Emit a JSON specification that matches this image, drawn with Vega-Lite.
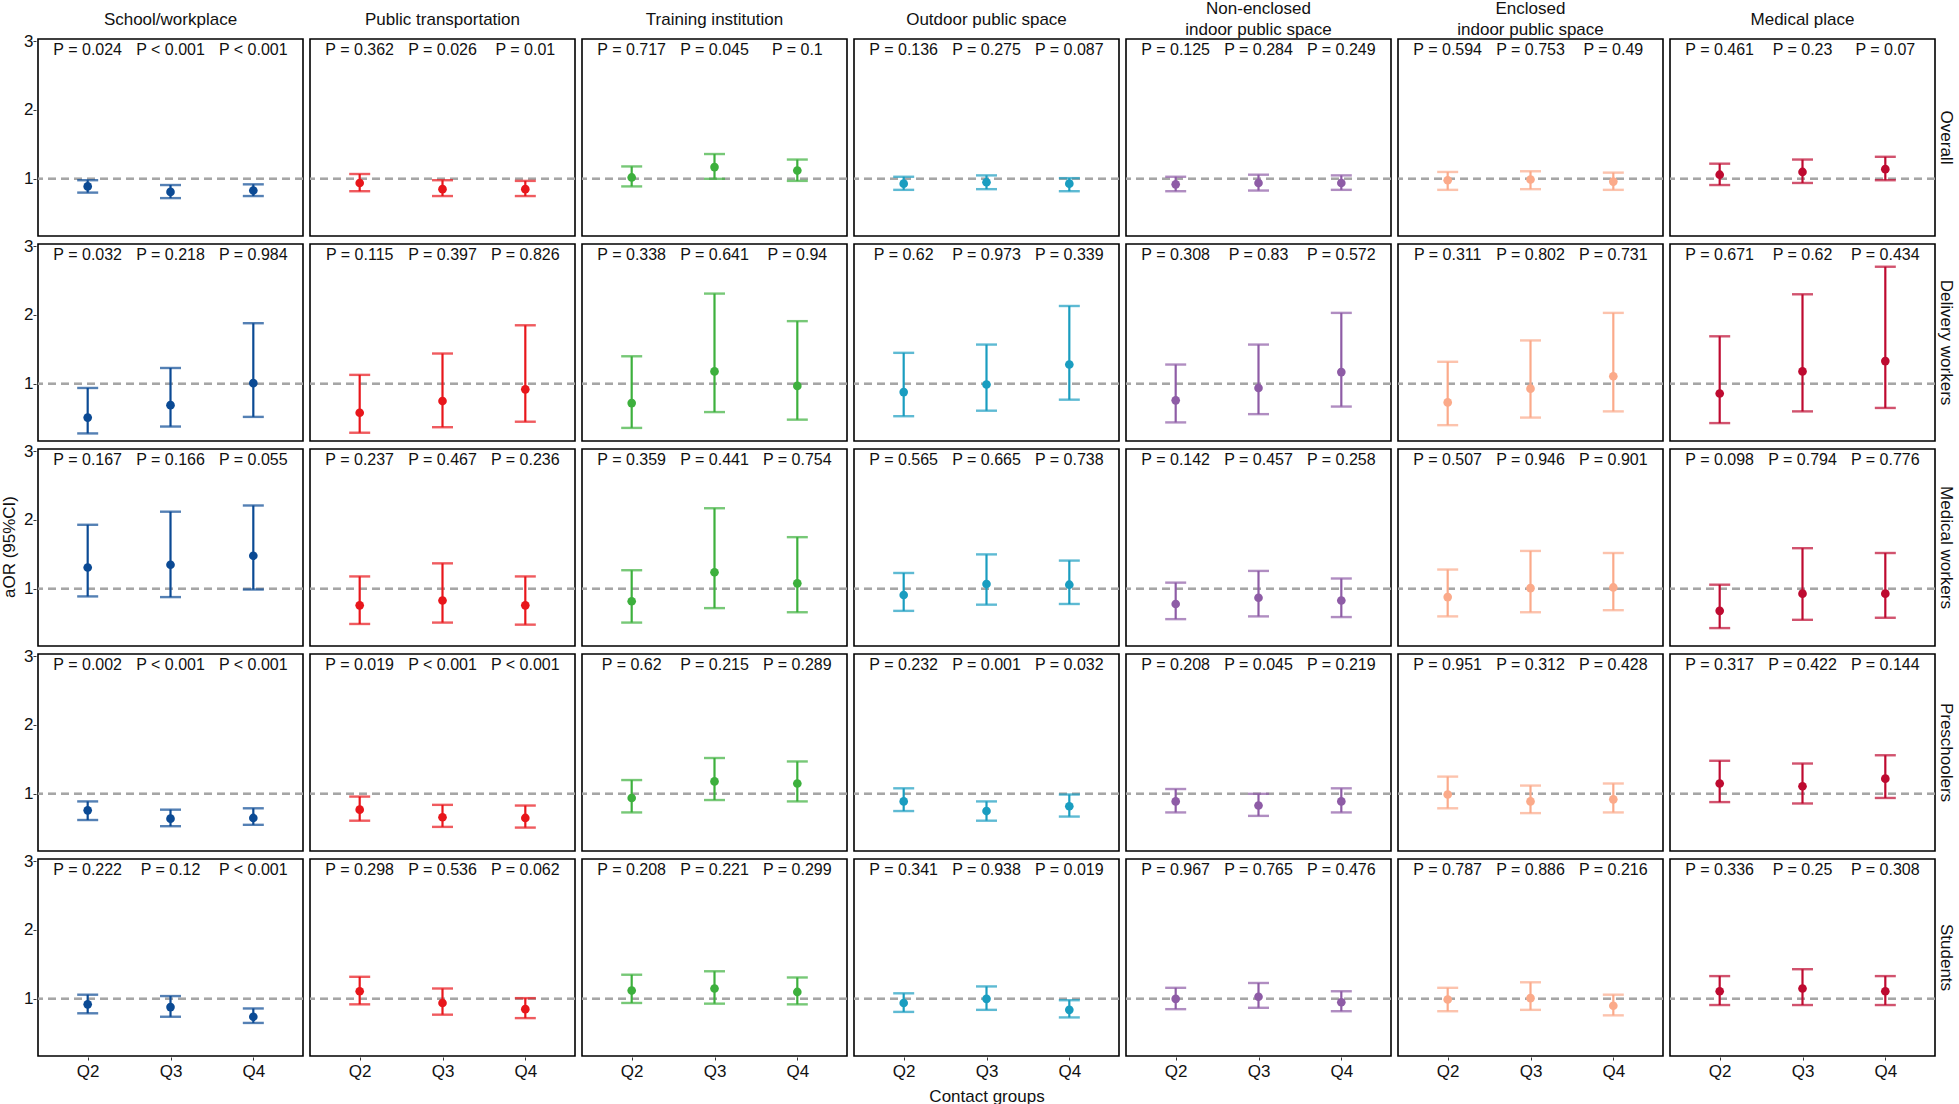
{
  "$schema": "https://vega.github.io/schema/vega-lite/v6.json",
  "padding": {"left": 0, "top": 0, "right": 0, "bottom": 0},
  "background": "white",
  "config": {
    "font": "Liberation Sans",
    "view": {"stroke": "#000000", "strokeWidth": 1.6},
    "axis": {"grid": false, "domain": false, "tickColor": "#333333", "tickSize": 3, "labelFontSize": 17, "labelColor": "#111111", "labelFont": "Liberation Sans"},
    "header": {"labelFont": "Liberation Sans", "titleFont": "Liberation Sans", "labelColor": "#111111", "titleColor": "#111111", "titleFontWeight": "normal"}
  },
  "data": {"values": [
    {"g":"Overall","c":"School/workplace","q":"Q2","or":0.89,"lo":0.80,"hi":0.98,"p":"P = 0.024"},
    {"g":"Overall","c":"School/workplace","q":"Q3","or":0.81,"lo":0.72,"hi":0.91,"p":"P  < 0.001"},
    {"g":"Overall","c":"School/workplace","q":"Q4","or":0.83,"lo":0.75,"hi":0.92,"p":"P  < 0.001"},
    {"g":"Overall","c":"Public transportation","q":"Q2","or":0.94,"lo":0.82,"hi":1.07,"p":"P = 0.362"},
    {"g":"Overall","c":"Public transportation","q":"Q3","or":0.85,"lo":0.75,"hi":0.98,"p":"P = 0.026"},
    {"g":"Overall","c":"Public transportation","q":"Q4","or":0.85,"lo":0.75,"hi":0.97,"p":"P = 0.01"},
    {"g":"Overall","c":"Training institution","q":"Q2","or":1.02,"lo":0.89,"hi":1.18,"p":"P = 0.717"},
    {"g":"Overall","c":"Training institution","q":"Q3","or":1.17,"lo":1.00,"hi":1.36,"p":"P = 0.045"},
    {"g":"Overall","c":"Training institution","q":"Q4","or":1.12,"lo":0.97,"hi":1.28,"p":"P = 0.1"},
    {"g":"Overall","c":"Outdoor public space","q":"Q2","or":0.93,"lo":0.84,"hi":1.03,"p":"P = 0.136"},
    {"g":"Overall","c":"Outdoor public space","q":"Q3","or":0.95,"lo":0.85,"hi":1.05,"p":"P = 0.275"},
    {"g":"Overall","c":"Outdoor public space","q":"Q4","or":0.93,"lo":0.82,"hi":1.01,"p":"P = 0.087"},
    {"g":"Overall","c":"Non-enclosed|indoor public space","q":"Q2","or":0.92,"lo":0.82,"hi":1.03,"p":"P = 0.125"},
    {"g":"Overall","c":"Non-enclosed|indoor public space","q":"Q3","or":0.94,"lo":0.83,"hi":1.06,"p":"P = 0.284"},
    {"g":"Overall","c":"Non-enclosed|indoor public space","q":"Q4","or":0.94,"lo":0.84,"hi":1.05,"p":"P = 0.249"},
    {"g":"Overall","c":"Enclosed|indoor public space","q":"Q2","or":0.98,"lo":0.84,"hi":1.10,"p":"P = 0.594"},
    {"g":"Overall","c":"Enclosed|indoor public space","q":"Q3","or":0.99,"lo":0.85,"hi":1.11,"p":"P = 0.753"},
    {"g":"Overall","c":"Enclosed|indoor public space","q":"Q4","or":0.96,"lo":0.84,"hi":1.09,"p":"P = 0.49"},
    {"g":"Overall","c":"Medical place","q":"Q2","or":1.06,"lo":0.91,"hi":1.22,"p":"P = 0.461"},
    {"g":"Overall","c":"Medical place","q":"Q3","or":1.10,"lo":0.94,"hi":1.28,"p":"P = 0.23"},
    {"g":"Overall","c":"Medical place","q":"Q4","or":1.14,"lo":0.98,"hi":1.32,"p":"P = 0.07"},

    {"g":"Delivery workers","c":"School/workplace","q":"Q2","or":0.51,"lo":0.28,"hi":0.94,"p":"P = 0.032"},
    {"g":"Delivery workers","c":"School/workplace","q":"Q3","or":0.69,"lo":0.38,"hi":1.23,"p":"P = 0.218"},
    {"g":"Delivery workers","c":"School/workplace","q":"Q4","or":1.01,"lo":0.52,"hi":1.88,"p":"P = 0.984"},
    {"g":"Delivery workers","c":"Public transportation","q":"Q2","or":0.58,"lo":0.29,"hi":1.13,"p":"P = 0.115"},
    {"g":"Delivery workers","c":"Public transportation","q":"Q3","or":0.75,"lo":0.37,"hi":1.44,"p":"P = 0.397"},
    {"g":"Delivery workers","c":"Public transportation","q":"Q4","or":0.92,"lo":0.45,"hi":1.85,"p":"P = 0.826"},
    {"g":"Delivery workers","c":"Training institution","q":"Q2","or":0.72,"lo":0.36,"hi":1.40,"p":"P = 0.338"},
    {"g":"Delivery workers","c":"Training institution","q":"Q3","or":1.18,"lo":0.59,"hi":2.31,"p":"P = 0.641"},
    {"g":"Delivery workers","c":"Training institution","q":"Q4","or":0.97,"lo":0.48,"hi":1.91,"p":"P = 0.94"},
    {"g":"Delivery workers","c":"Outdoor public space","q":"Q2","or":0.88,"lo":0.53,"hi":1.45,"p":"P = 0.62"},
    {"g":"Delivery workers","c":"Outdoor public space","q":"Q3","or":0.99,"lo":0.61,"hi":1.57,"p":"P = 0.973"},
    {"g":"Delivery workers","c":"Outdoor public space","q":"Q4","or":1.28,"lo":0.77,"hi":2.13,"p":"P = 0.339"},
    {"g":"Delivery workers","c":"Non-enclosed|indoor public space","q":"Q2","or":0.76,"lo":0.44,"hi":1.28,"p":"P = 0.308"},
    {"g":"Delivery workers","c":"Non-enclosed|indoor public space","q":"Q3","or":0.94,"lo":0.56,"hi":1.57,"p":"P = 0.83"},
    {"g":"Delivery workers","c":"Non-enclosed|indoor public space","q":"Q4","or":1.17,"lo":0.67,"hi":2.03,"p":"P = 0.572"},
    {"g":"Delivery workers","c":"Enclosed|indoor public space","q":"Q2","or":0.73,"lo":0.40,"hi":1.32,"p":"P = 0.311"},
    {"g":"Delivery workers","c":"Enclosed|indoor public space","q":"Q3","or":0.93,"lo":0.51,"hi":1.63,"p":"P = 0.802"},
    {"g":"Delivery workers","c":"Enclosed|indoor public space","q":"Q4","or":1.11,"lo":0.60,"hi":2.03,"p":"P = 0.731"},
    {"g":"Delivery workers","c":"Medical place","q":"Q2","or":0.86,"lo":0.43,"hi":1.69,"p":"P = 0.671"},
    {"g":"Delivery workers","c":"Medical place","q":"Q3","or":1.18,"lo":0.60,"hi":2.30,"p":"P = 0.62"},
    {"g":"Delivery workers","c":"Medical place","q":"Q4","or":1.33,"lo":0.65,"hi":2.70,"p":"P = 0.434"},

    {"g":"Medical workers","c":"School/workplace","q":"Q2","or":1.31,"lo":0.89,"hi":1.93,"p":"P = 0.167"},
    {"g":"Medical workers","c":"School/workplace","q":"Q3","or":1.35,"lo":0.88,"hi":2.12,"p":"P = 0.166"},
    {"g":"Medical workers","c":"School/workplace","q":"Q4","or":1.48,"lo":0.99,"hi":2.21,"p":"P = 0.055"},
    {"g":"Medical workers","c":"Public transportation","q":"Q2","or":0.76,"lo":0.49,"hi":1.18,"p":"P = 0.237"},
    {"g":"Medical workers","c":"Public transportation","q":"Q3","or":0.83,"lo":0.51,"hi":1.37,"p":"P = 0.467"},
    {"g":"Medical workers","c":"Public transportation","q":"Q4","or":0.76,"lo":0.48,"hi":1.18,"p":"P = 0.236"},
    {"g":"Medical workers","c":"Training institution","q":"Q2","or":0.82,"lo":0.51,"hi":1.27,"p":"P = 0.359"},
    {"g":"Medical workers","c":"Training institution","q":"Q3","or":1.24,"lo":0.72,"hi":2.17,"p":"P = 0.441"},
    {"g":"Medical workers","c":"Training institution","q":"Q4","or":1.08,"lo":0.66,"hi":1.75,"p":"P = 0.754"},
    {"g":"Medical workers","c":"Outdoor public space","q":"Q2","or":0.91,"lo":0.68,"hi":1.23,"p":"P = 0.565"},
    {"g":"Medical workers","c":"Outdoor public space","q":"Q3","or":1.07,"lo":0.77,"hi":1.50,"p":"P = 0.665"},
    {"g":"Medical workers","c":"Outdoor public space","q":"Q4","or":1.06,"lo":0.78,"hi":1.41,"p":"P = 0.738"},
    {"g":"Medical workers","c":"Non-enclosed|indoor public space","q":"Q2","or":0.78,"lo":0.56,"hi":1.09,"p":"P = 0.142"},
    {"g":"Medical workers","c":"Non-enclosed|indoor public space","q":"Q3","or":0.87,"lo":0.60,"hi":1.26,"p":"P = 0.457"},
    {"g":"Medical workers","c":"Non-enclosed|indoor public space","q":"Q4","or":0.83,"lo":0.59,"hi":1.15,"p":"P = 0.258"},
    {"g":"Medical workers","c":"Enclosed|indoor public space","q":"Q2","or":0.88,"lo":0.60,"hi":1.28,"p":"P = 0.507"},
    {"g":"Medical workers","c":"Enclosed|indoor public space","q":"Q3","or":1.01,"lo":0.66,"hi":1.55,"p":"P = 0.946"},
    {"g":"Medical workers","c":"Enclosed|indoor public space","q":"Q4","or":1.02,"lo":0.69,"hi":1.52,"p":"P = 0.901"},
    {"g":"Medical workers","c":"Medical place","q":"Q2","or":0.68,"lo":0.43,"hi":1.06,"p":"P = 0.098"},
    {"g":"Medical workers","c":"Medical place","q":"Q3","or":0.93,"lo":0.55,"hi":1.59,"p":"P = 0.794"},
    {"g":"Medical workers","c":"Medical place","q":"Q4","or":0.93,"lo":0.58,"hi":1.52,"p":"P = 0.776"},

    {"g":"Preschoolers","c":"School/workplace","q":"Q2","or":0.76,"lo":0.62,"hi":0.89,"p":"P = 0.002"},
    {"g":"Preschoolers","c":"School/workplace","q":"Q3","or":0.64,"lo":0.53,"hi":0.77,"p":"P  < 0.001"},
    {"g":"Preschoolers","c":"School/workplace","q":"Q4","or":0.65,"lo":0.55,"hi":0.79,"p":"P  < 0.001"},
    {"g":"Preschoolers","c":"Public transportation","q":"Q2","or":0.77,"lo":0.61,"hi":0.96,"p":"P = 0.019"},
    {"g":"Preschoolers","c":"Public transportation","q":"Q3","or":0.66,"lo":0.52,"hi":0.84,"p":"P  < 0.001"},
    {"g":"Preschoolers","c":"Public transportation","q":"Q4","or":0.65,"lo":0.51,"hi":0.83,"p":"P  < 0.001"},
    {"g":"Preschoolers","c":"Training institution","q":"Q2","or":0.94,"lo":0.73,"hi":1.20,"p":"P = 0.62"},
    {"g":"Preschoolers","c":"Training institution","q":"Q3","or":1.18,"lo":0.91,"hi":1.52,"p":"P = 0.215"},
    {"g":"Preschoolers","c":"Training institution","q":"Q4","or":1.15,"lo":0.89,"hi":1.47,"p":"P = 0.289"},
    {"g":"Preschoolers","c":"Outdoor public space","q":"Q2","or":0.89,"lo":0.75,"hi":1.08,"p":"P = 0.232"},
    {"g":"Preschoolers","c":"Outdoor public space","q":"Q3","or":0.75,"lo":0.61,"hi":0.89,"p":"P = 0.001"},
    {"g":"Preschoolers","c":"Outdoor public space","q":"Q4","or":0.82,"lo":0.67,"hi":0.99,"p":"P = 0.032"},
    {"g":"Preschoolers","c":"Non-enclosed|indoor public space","q":"Q2","or":0.89,"lo":0.73,"hi":1.07,"p":"P = 0.208"},
    {"g":"Preschoolers","c":"Non-enclosed|indoor public space","q":"Q3","or":0.83,"lo":0.68,"hi":1.00,"p":"P = 0.045"},
    {"g":"Preschoolers","c":"Non-enclosed|indoor public space","q":"Q4","or":0.89,"lo":0.73,"hi":1.08,"p":"P = 0.219"},
    {"g":"Preschoolers","c":"Enclosed|indoor public space","q":"Q2","or":0.99,"lo":0.79,"hi":1.25,"p":"P = 0.951"},
    {"g":"Preschoolers","c":"Enclosed|indoor public space","q":"Q3","or":0.89,"lo":0.72,"hi":1.12,"p":"P = 0.312"},
    {"g":"Preschoolers","c":"Enclosed|indoor public space","q":"Q4","or":0.92,"lo":0.73,"hi":1.15,"p":"P = 0.428"},
    {"g":"Preschoolers","c":"Medical place","q":"Q2","or":1.15,"lo":0.88,"hi":1.48,"p":"P = 0.317"},
    {"g":"Preschoolers","c":"Medical place","q":"Q3","or":1.11,"lo":0.86,"hi":1.44,"p":"P = 0.422"},
    {"g":"Preschoolers","c":"Medical place","q":"Q4","or":1.22,"lo":0.94,"hi":1.56,"p":"P = 0.144"},

    {"g":"Students","c":"School/workplace","q":"Q2","or":0.92,"lo":0.79,"hi":1.06,"p":"P = 0.222"},
    {"g":"Students","c":"School/workplace","q":"Q3","or":0.88,"lo":0.74,"hi":1.04,"p":"P = 0.12"},
    {"g":"Students","c":"School/workplace","q":"Q4","or":0.74,"lo":0.65,"hi":0.86,"p":"P  < 0.001"},
    {"g":"Students","c":"Public transportation","q":"Q2","or":1.11,"lo":0.92,"hi":1.32,"p":"P = 0.298"},
    {"g":"Students","c":"Public transportation","q":"Q3","or":0.94,"lo":0.77,"hi":1.15,"p":"P = 0.536"},
    {"g":"Students","c":"Public transportation","q":"Q4","or":0.85,"lo":0.72,"hi":1.01,"p":"P = 0.062"},
    {"g":"Students","c":"Training institution","q":"Q2","or":1.12,"lo":0.94,"hi":1.35,"p":"P = 0.208"},
    {"g":"Students","c":"Training institution","q":"Q3","or":1.15,"lo":0.93,"hi":1.40,"p":"P = 0.221"},
    {"g":"Students","c":"Training institution","q":"Q4","or":1.10,"lo":0.92,"hi":1.31,"p":"P = 0.299"},
    {"g":"Students","c":"Outdoor public space","q":"Q2","or":0.94,"lo":0.81,"hi":1.08,"p":"P = 0.341"},
    {"g":"Students","c":"Outdoor public space","q":"Q3","or":1.00,"lo":0.84,"hi":1.18,"p":"P = 0.938"},
    {"g":"Students","c":"Outdoor public space","q":"Q4","or":0.84,"lo":0.73,"hi":0.98,"p":"P = 0.019"},
    {"g":"Students","c":"Non-enclosed|indoor public space","q":"Q2","or":1.00,"lo":0.85,"hi":1.16,"p":"P = 0.967"},
    {"g":"Students","c":"Non-enclosed|indoor public space","q":"Q3","or":1.03,"lo":0.87,"hi":1.23,"p":"P = 0.765"},
    {"g":"Students","c":"Non-enclosed|indoor public space","q":"Q4","or":0.95,"lo":0.82,"hi":1.11,"p":"P = 0.476"},
    {"g":"Students","c":"Enclosed|indoor public space","q":"Q2","or":0.99,"lo":0.82,"hi":1.16,"p":"P = 0.787"},
    {"g":"Students","c":"Enclosed|indoor public space","q":"Q3","or":1.01,"lo":0.84,"hi":1.24,"p":"P = 0.886"},
    {"g":"Students","c":"Enclosed|indoor public space","q":"Q4","or":0.90,"lo":0.76,"hi":1.06,"p":"P = 0.216"},
    {"g":"Students","c":"Medical place","q":"Q2","or":1.11,"lo":0.91,"hi":1.33,"p":"P = 0.336"},
    {"g":"Students","c":"Medical place","q":"Q3","or":1.15,"lo":0.91,"hi":1.43,"p":"P = 0.25"},
    {"g":"Students","c":"Medical place","q":"Q4","or":1.11,"lo":0.91,"hi":1.33,"p":"P = 0.308"}
  ]},
  "spacing": {"row": 6, "column": 3},
  "facet": {
    "row": {
      "field": "g", "type": "nominal",
      "sort": ["Overall", "Delivery workers", "Medical workers", "Preschoolers", "Students"],
      "title": "aOR (95%CI)",
      "header": {"labelOrient": "right", "labelAngle": 90, "labelFontSize": 17, "labelPadding": 0, "titleOrient": "left", "titleFontSize": 17, "titlePadding": -6}
    },
    "column": {
      "field": "c", "type": "nominal",
      "sort": ["School/workplace", "Public transportation", "Training institution", "Outdoor public space", "Non-enclosed|indoor public space", "Enclosed|indoor public space", "Medical place"],
      "title": "Contact groups",
      "header": {"labelOrient": "top", "labelExpr": "indexof(datum.value, '|') >= 0 ? [split(datum.value, '|')[0], '\u200b', split(datum.value, '|')[1]] : [datum.value, '\u200b']", "labelFontSize": 17, "labelBaseline": "alphabetic", "labelPadding": -14, "labelLineHeight": 10.5, "titleOrient": "bottom", "titleFontSize": 17, "titlePadding": 0}
    }
  },
  "spec": {
    "width": 265,
    "height": 197,
    "encoding": {
      "x": {"field": "q", "type": "nominal", "title": null, "scale": {"type": "point", "padding": 0.6}, "axis": {"labelAngle": 0, "labelPadding": 3}},
      "color": {"field": "c", "type": "nominal", "legend": null,
        "scale": {"domain": ["School/workplace", "Public transportation", "Training institution", "Outdoor public space", "Non-enclosed|indoor public space", "Enclosed|indoor public space", "Medical place"],
                  "range": ["#0B4A94", "#E8161B", "#3DB03D", "#1A9DC0", "#8E5CA6", "#FBAA8A", "#BE0A30"]}}
    },
    "layer": [
      {
        "mark": {"type": "rule", "strokeDash": [8, 5], "color": "#A6A6A6", "strokeWidth": 2.2},
        "encoding": {"y": {"datum": 1, "type": "quantitative", "scale": {"domain": [0.17, 3.03], "nice": false, "zero": false}, "title": null, "axis": {"values": [1, 2, 3], "format": "d", "labelPadding": 0}}, "x": null, "color": null}
      },
      {
        "mark": {"type": "rule", "strokeWidth": 2.2},
        "encoding": {"y": {"field": "lo", "type": "quantitative", "title": null, "axis": {"values": [1, 2, 3], "format": "d", "labelPadding": 0}}, "y2": {"field": "hi"}}
      },
      {
        "mark": {"type": "tick", "size": 21, "thickness": 2.4},
        "encoding": {"y": {"field": "lo", "type": "quantitative", "title": null, "axis": {"values": [1, 2, 3], "format": "d", "labelPadding": 0}}}
      },
      {
        "mark": {"type": "tick", "size": 21, "thickness": 2.4},
        "encoding": {"y": {"field": "hi", "type": "quantitative", "title": null, "axis": {"values": [1, 2, 3], "format": "d", "labelPadding": 0}}}
      },
      {
        "mark": {"type": "point", "filled": true, "opacity": 1, "size": 75},
        "encoding": {"y": {"field": "or", "type": "quantitative", "title": null, "axis": {"values": [1, 2, 3], "format": "d", "labelPadding": 0}}}
      },
      {
        "mark": {"type": "text", "fontSize": 16, "color": "#111111", "baseline": "middle", "align": "center"},
        "encoding": {"y": {"datum": 2.87, "type": "quantitative", "title": null, "axis": {"values": [1, 2, 3], "format": "d", "labelPadding": 0}}, "text": {"field": "p"}, "color": null}
      }
    ]
  }
}
